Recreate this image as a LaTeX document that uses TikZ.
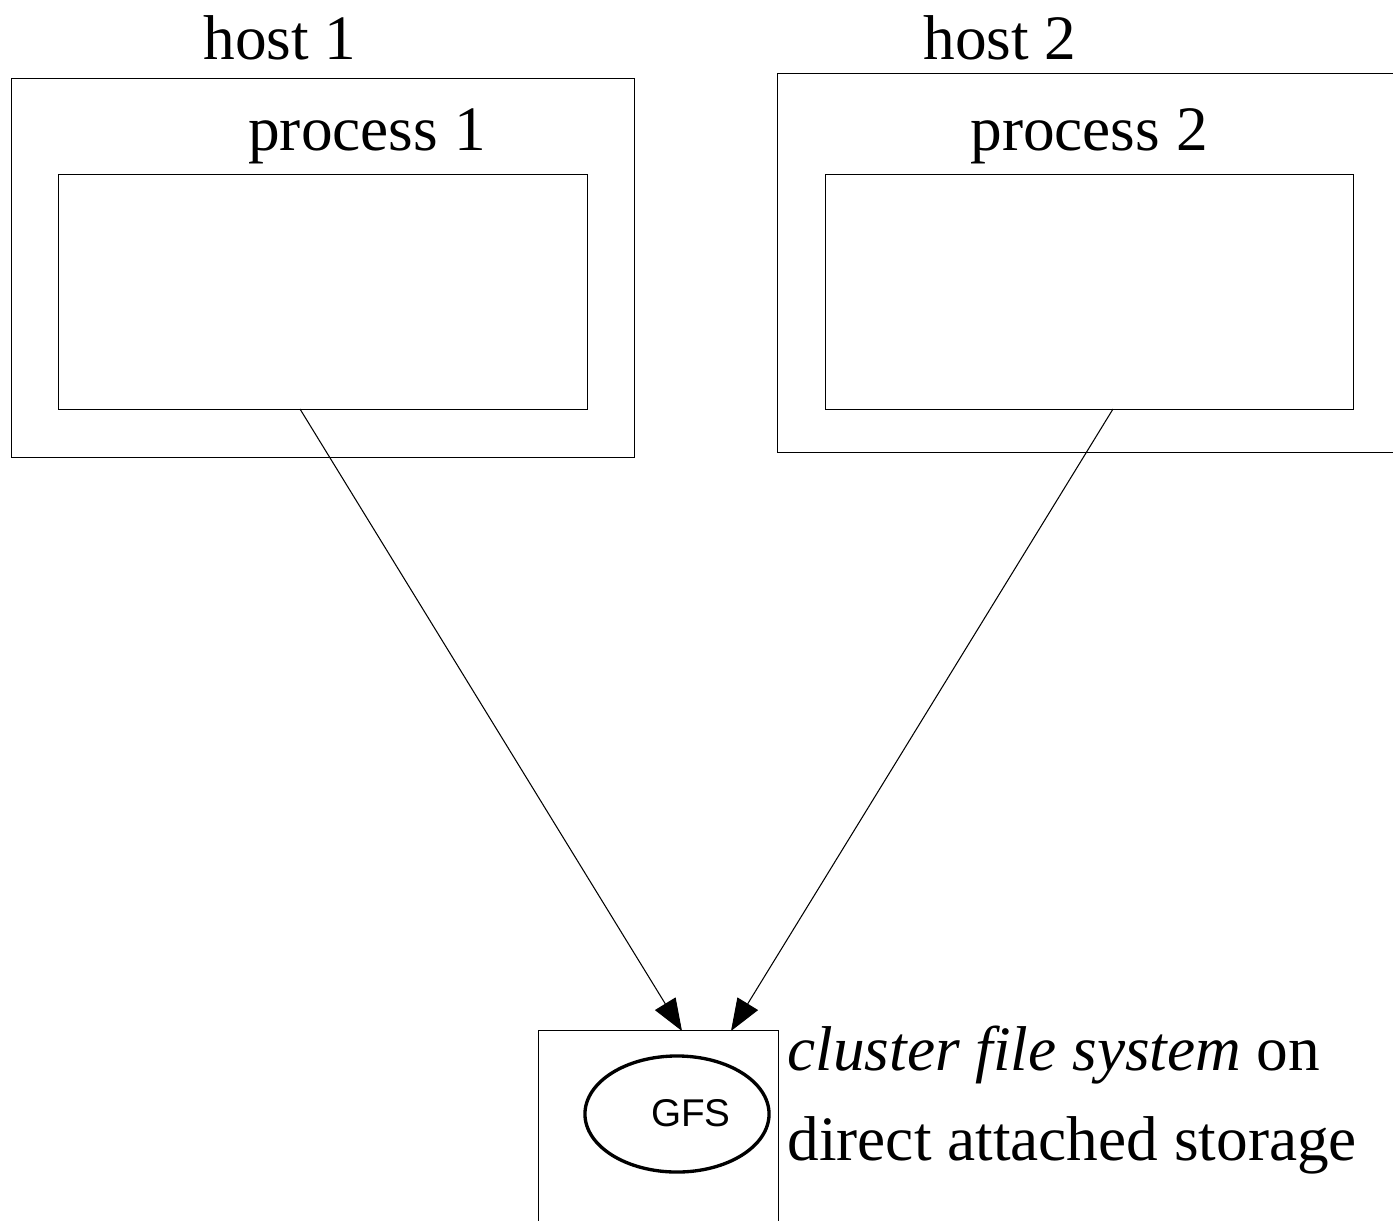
\documentclass[tikz,border=0pt]{standalone}
\usepackage{fontspec}
\setmainfont{Liberation Serif}
\newfontfamily\gfsfont{Liberation Sans}
\usetikzlibrary{arrows.meta,positioning,shapes.geometric}

\begin{document}
\begin{tikzpicture}[x=0.01cm,y=-0.01cm,line width=0.3pt,
                    label/.style={font=\fontsize{18}{20}\selectfont,inner sep=0pt},
                    link/.style={-{Triangle[length=0.32cm,width=0.24cm]}}]%
                    \useasboundingbox (0,0) rectangle (1393,1220);%%
                    \begin{scope}
                        \tikzstyle{every node}=[draw,rectangle,inner sep=0pt];%%
                        \node[minimum width=6.22cm,minimum height=3.78cm] (h1) at (323,268)  {}; %%
                        \node[minimum width=5.28cm,minimum height=2.34cm] (p1) at (323,292)  {}; %%
                        \node[minimum width=6.15cm,minimum height=3.78cm] (h2) at (1085.5,263)  {}; %%
                        \node[minimum width=5.27cm,minimum height=2.34cm] (p2) at (1089.5,292)  {}; %%
                        \node[draw=none,minimum width=2.39cm,minimum height=1.89cm] (st) at (658.5,1125.5)  {}; %%
                        \node[ellipse,line width=0.95pt,minimum width=1.84cm,minimum height=1.16cm] (gfs) at (677,1114)  {}; %%
                    \end{scope}
                        \node[label] (th1) at (280,38) {host 1}; %%
                        \node[label] (tp1) at (367,136) {process 1}; %%
                        \node[label] (th2) at (1000,38) {host 2}; %%
                        \node[label] (tp2) at (1089,136) {process 2}; %%
                        \node[font=\gfsfont\fontsize{11}{13}\selectfont,inner sep=0pt] (tg) at (691,1113) {GFS}; %%
                        \node[label,anchor=base west] (tc1) at (787,1070) {\textit{cluster file system} on}; %%
                        \node[label,anchor=base west] (tc2) at (787,1160) {direct attached storage}; %%
                        \coordinate (a1) at (300,409); %%
                        \coordinate (a2) at (1113,409); %%
                        \coordinate (b1) at (682,1031); %%
                        \coordinate (b2) at (731,1031); %%
                        \draw (st.south west) -- (st.north west) -- (st.north east) -- (st.south east); %%
                        \draw[link] (a1)--(b1); %%
                        \draw[link] (a2)--(b2); %%
                    \end{tikzpicture}
\end{document}
